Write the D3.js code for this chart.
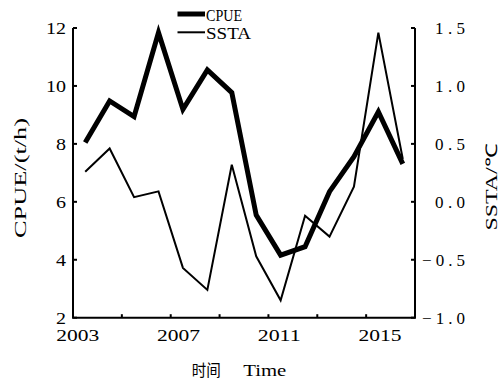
<!DOCTYPE html>
<html><head><meta charset="utf-8">
<script src="https://cdn.jsdelivr.net/npm/d3@7"></script>
<style>body{margin:0;background:#fff}svg{display:block}</style>
</head><body>
<svg id="c" width="502" height="383"></svg>
<script>
const years = [2003,2004,2005,2006,2007,2008,2009,2010,2011,2012,2013,2014,2015,2016];
const cpue  = [8.05,9.48,8.94,11.84,9.19,10.55,9.77,5.54,4.16,4.45,6.35,7.56,9.11,7.31];
const ssta  = [0.26,0.46,0.04,0.09,-0.57,-0.76,0.32,-0.47,-0.85,-0.12,-0.30,0.13,1.46,0.37];
const xTickYears = [2005,2007,2009,2011,2013,2015];
const xLabelYears = [2003,2007,2011,2015];
const leftTicks = [2,4,6,8,10,12];
const rightTicks = [-1.0,-0.5,0.0,0.5,1.0,1.5];

const svg = d3.select("#c");
const L = 73, R = 415, T = 28, B = 317.7;
const x = d3.scaleLinear().domain([2003, 2017]).range([L, R]);
const xLab = d3.scaleLinear().domain([2003, 2015]).range([77.7, 380]);
const yL = d3.scaleLinear().domain([2, 12]).range([B, T]);
const yR = d3.scaleLinear().domain([-1, 1.5]).range([B, T]);
const ser = "'Liberation Serif', 'Times New Roman', serif";

const axis = svg.append("g").attr("stroke","#000").attr("stroke-width",2).attr("fill","none");
axis.append("path").attr("d",`M${L},${T}V${B}H${R}V${T}`);
leftTicks.forEach(v=>{
  axis.append("line").attr("x1",L).attr("x2",L+4).attr("y1",yL(v)).attr("y2",yL(v));
  const s = String(v);
  svg.append("text").attr("x",66).attr("y",yL(v)+6).attr("text-anchor","end")
    .attr("font-family",ser).attr("font-size",17)
    .attr("textLength",10*s.length).attr("lengthAdjust","spacingAndGlyphs").text(s);
});
rightTicks.forEach(v=>{
  axis.append("line").attr("x1",R).attr("x2",R-4).attr("y1",yR(v)).attr("y2",yR(v));
  const s = d3.format(".1f")(v);
  svg.append("text").attr("x",465).attr("y",yR(v)+6).attr("text-anchor","end")
    .attr("font-family",ser).attr("font-size",17)
    .attr("textLength", v<0?43:30).attr("lengthAdjust","spacing").text(s);
});
xTickYears.forEach(yv=>{
  axis.append("line").attr("x1",x(yv)).attr("x2",x(yv)).attr("y1",B).attr("y2",B-3.5);
});
xLabelYears.forEach(yv=>{
  svg.append("text").attr("x",xLab(yv)).attr("y",341).attr("text-anchor","middle")
    .attr("font-family",ser).attr("font-size",17)
    .attr("textLength",43).attr("lengthAdjust","spacingAndGlyphs").text(yv);
});

const lineL = d3.line().x((d,i)=>x(years[i]+0.5)).y(d=>yL(d));
const lineR = d3.line().x((d,i)=>x(years[i]+0.5)).y(d=>yR(d));
svg.append("path").attr("d",lineR(ssta)).attr("fill","none").attr("stroke","#000")
  .attr("stroke-width",2).attr("stroke-linejoin","miter");
svg.append("path").attr("d",lineL(cpue)).attr("fill","none").attr("stroke","#000")
  .attr("stroke-width",5).attr("stroke-linejoin","miter");

svg.append("line").attr("x1",177.5).attr("x2",205).attr("y1",14).attr("y2",14).attr("stroke","#000").attr("stroke-width",5);
svg.append("line").attr("x1",177.5).attr("x2",205).attr("y1",32.3).attr("y2",32.3).attr("stroke","#000").attr("stroke-width",2);
svg.append("text").attr("x",206).attr("y",20.5).attr("font-family",ser).attr("font-size",16)
  .attr("textLength",36).attr("lengthAdjust","spacingAndGlyphs").text("CPUE");
svg.append("text").attr("x",206).attr("y",38.5).attr("font-family",ser).attr("font-size",16)
  .attr("textLength",45).attr("lengthAdjust","spacingAndGlyphs").text("SSTA");

svg.append("text").attr("transform","translate(25.5,178) rotate(-90)").attr("text-anchor","middle")
  .attr("font-family",ser).attr("font-size",17)
  .attr("textLength",120).attr("lengthAdjust","spacingAndGlyphs").text("CPUE/(t/h)");
svg.append("text").attr("transform","translate(497,187) rotate(-90)").attr("text-anchor","middle")
  .attr("font-family",ser).attr("font-size",16)
  .attr("textLength",87).attr("lengthAdjust","spacingAndGlyphs").text("SSTA/℃");
const xt = svg.append("text").attr("y",376).attr("font-size",16);
xt.append("tspan").attr("x",191.7).attr("font-family","'Noto Sans CJK SC', sans-serif")
  .attr("textLength",29).attr("lengthAdjust","spacingAndGlyphs").text("时间");
xt.append("tspan").attr("x",243.3).attr("font-family",ser)
  .attr("textLength",43).attr("lengthAdjust","spacingAndGlyphs").text("Time");
</script>
</body></html>
